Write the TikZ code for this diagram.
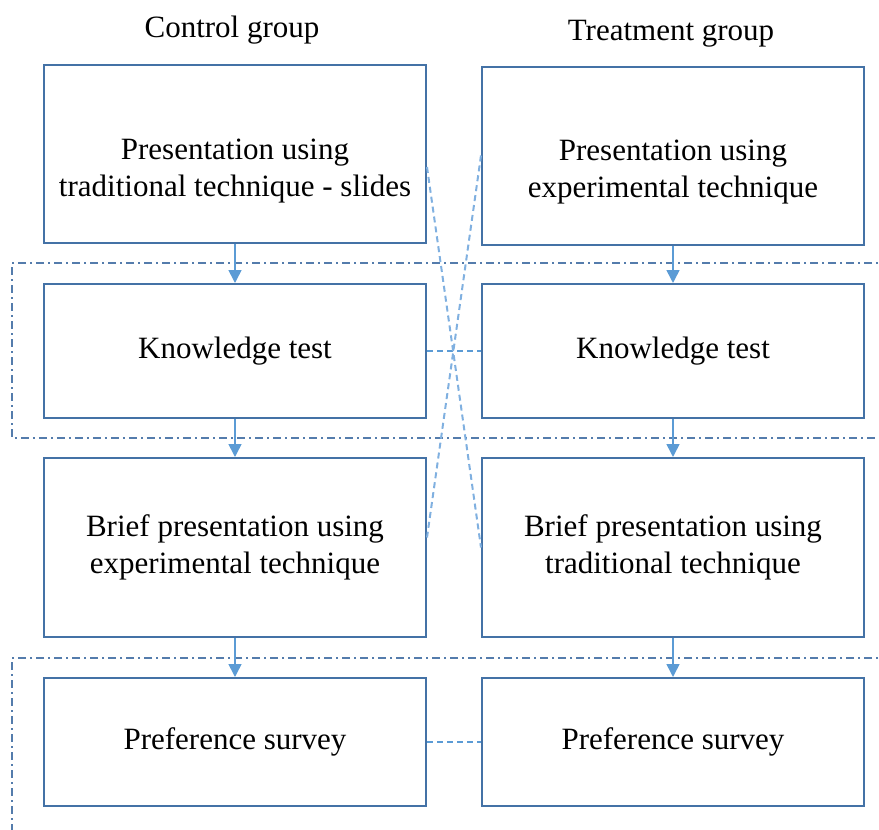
\documentclass[tikz,border=0pt]{standalone}
\usepackage{fontspec}
\setmainfont{Liberation Serif}
\usepackage{xcolor}
\usetikzlibrary{
    arrows.meta,
    positioning
}
\definecolor{boxblue}{RGB}{68,114,166}
\definecolor{arrowblue}{RGB}{91,155,213}
\definecolor{linkblue}{RGB}{128,176,224}
\definecolor{frameblue}{RGB}{84,124,172}

\begin{document}
\begin{tikzpicture}[x=0.5pt, y=-0.5pt,
                    font=\fontsize{15.5}{18.5}\selectfont,
                    stage/.style={draw=boxblue, line width=1pt, minimum width=191pt, minimum height=#1, align=center, inner sep=0pt},
                    caption/.style={align=center, inner sep=0pt},
                    groupframe/.style={draw=frameblue, line width=1pt, dash pattern=on 4pt off 2pt on 1pt off 2pt},
                    crosslink/.style={draw=linkblue, line width=1pt, dash pattern=on 3pt off 2pt},
                    >={Triangle[length=6.5pt, width=6.5pt]}]
                    \useasboundingbox (0, 0) rectangle (879, 830);
                    \clip (0, 0) rectangle (879, 830);
                    % phase frames
                    \draw[groupframe] (890, 263) -- (12, 263) -- (12, 438) -- (890, 438);
                    \draw[groupframe] (890, 658) -- (12, 658) -- (12, 845);
                    \node[anchor=base] (ctl) at (232, 37) {Control group};
                    \node[anchor=base] (trt) at (671, 40) {Treatment group};
                    \node[stage=89pt] (ctl1) at (235, 154) {};
                    \node[caption] (ctl1t) at (235, 171) {Presentation using\\traditional technique - slides};
                    \node[stage=67pt] (ctl2) at (235, 351) {Knowledge test};
                    \node[stage=89.5pt] (ctl3) at (235, 547.5) {Brief presentation using\\experimental technique};
                    \node[stage=64pt] (ctl4) at (235, 742) {Preference survey};
                    \node[stage=89pt] (trt1) at (673, 155.5) {};
                    \node[caption] (trt1t) at (673, 172) {Presentation using\\experimental technique};
                    \node[stage=67pt] (trt2) at (673, 351) {Knowledge test};
                    \node[stage=89.5pt] (trt3) at (673, 547.5) {Brief presentation using\\traditional technique};
                    \node[stage=64pt] (trt4) at (673, 742) {Preference survey};
                    \draw[arrowblue, line width=0.8pt]
                    (ctl1) edge[->] (ctl2)
                    (ctl2) edge[->] (ctl3)
                    (ctl3) edge[->] (ctl4)
                    (trt1) edge[->] (trt2)
                    (trt2) edge[->] (trt3)
                    (trt3) edge[->] (trt4);
                    \draw[crosslink, draw=arrowblue]
                    (ctl2) edge (trt2)
                    (ctl4) edge (trt4);
                    \draw[crosslink]
                    ([yshift=-6.5pt]ctl1.east) edge (trt3.west)
                    (trt1.west) edge ([yshift=5pt]ctl3.east);
                \end{tikzpicture}
\end{document}
